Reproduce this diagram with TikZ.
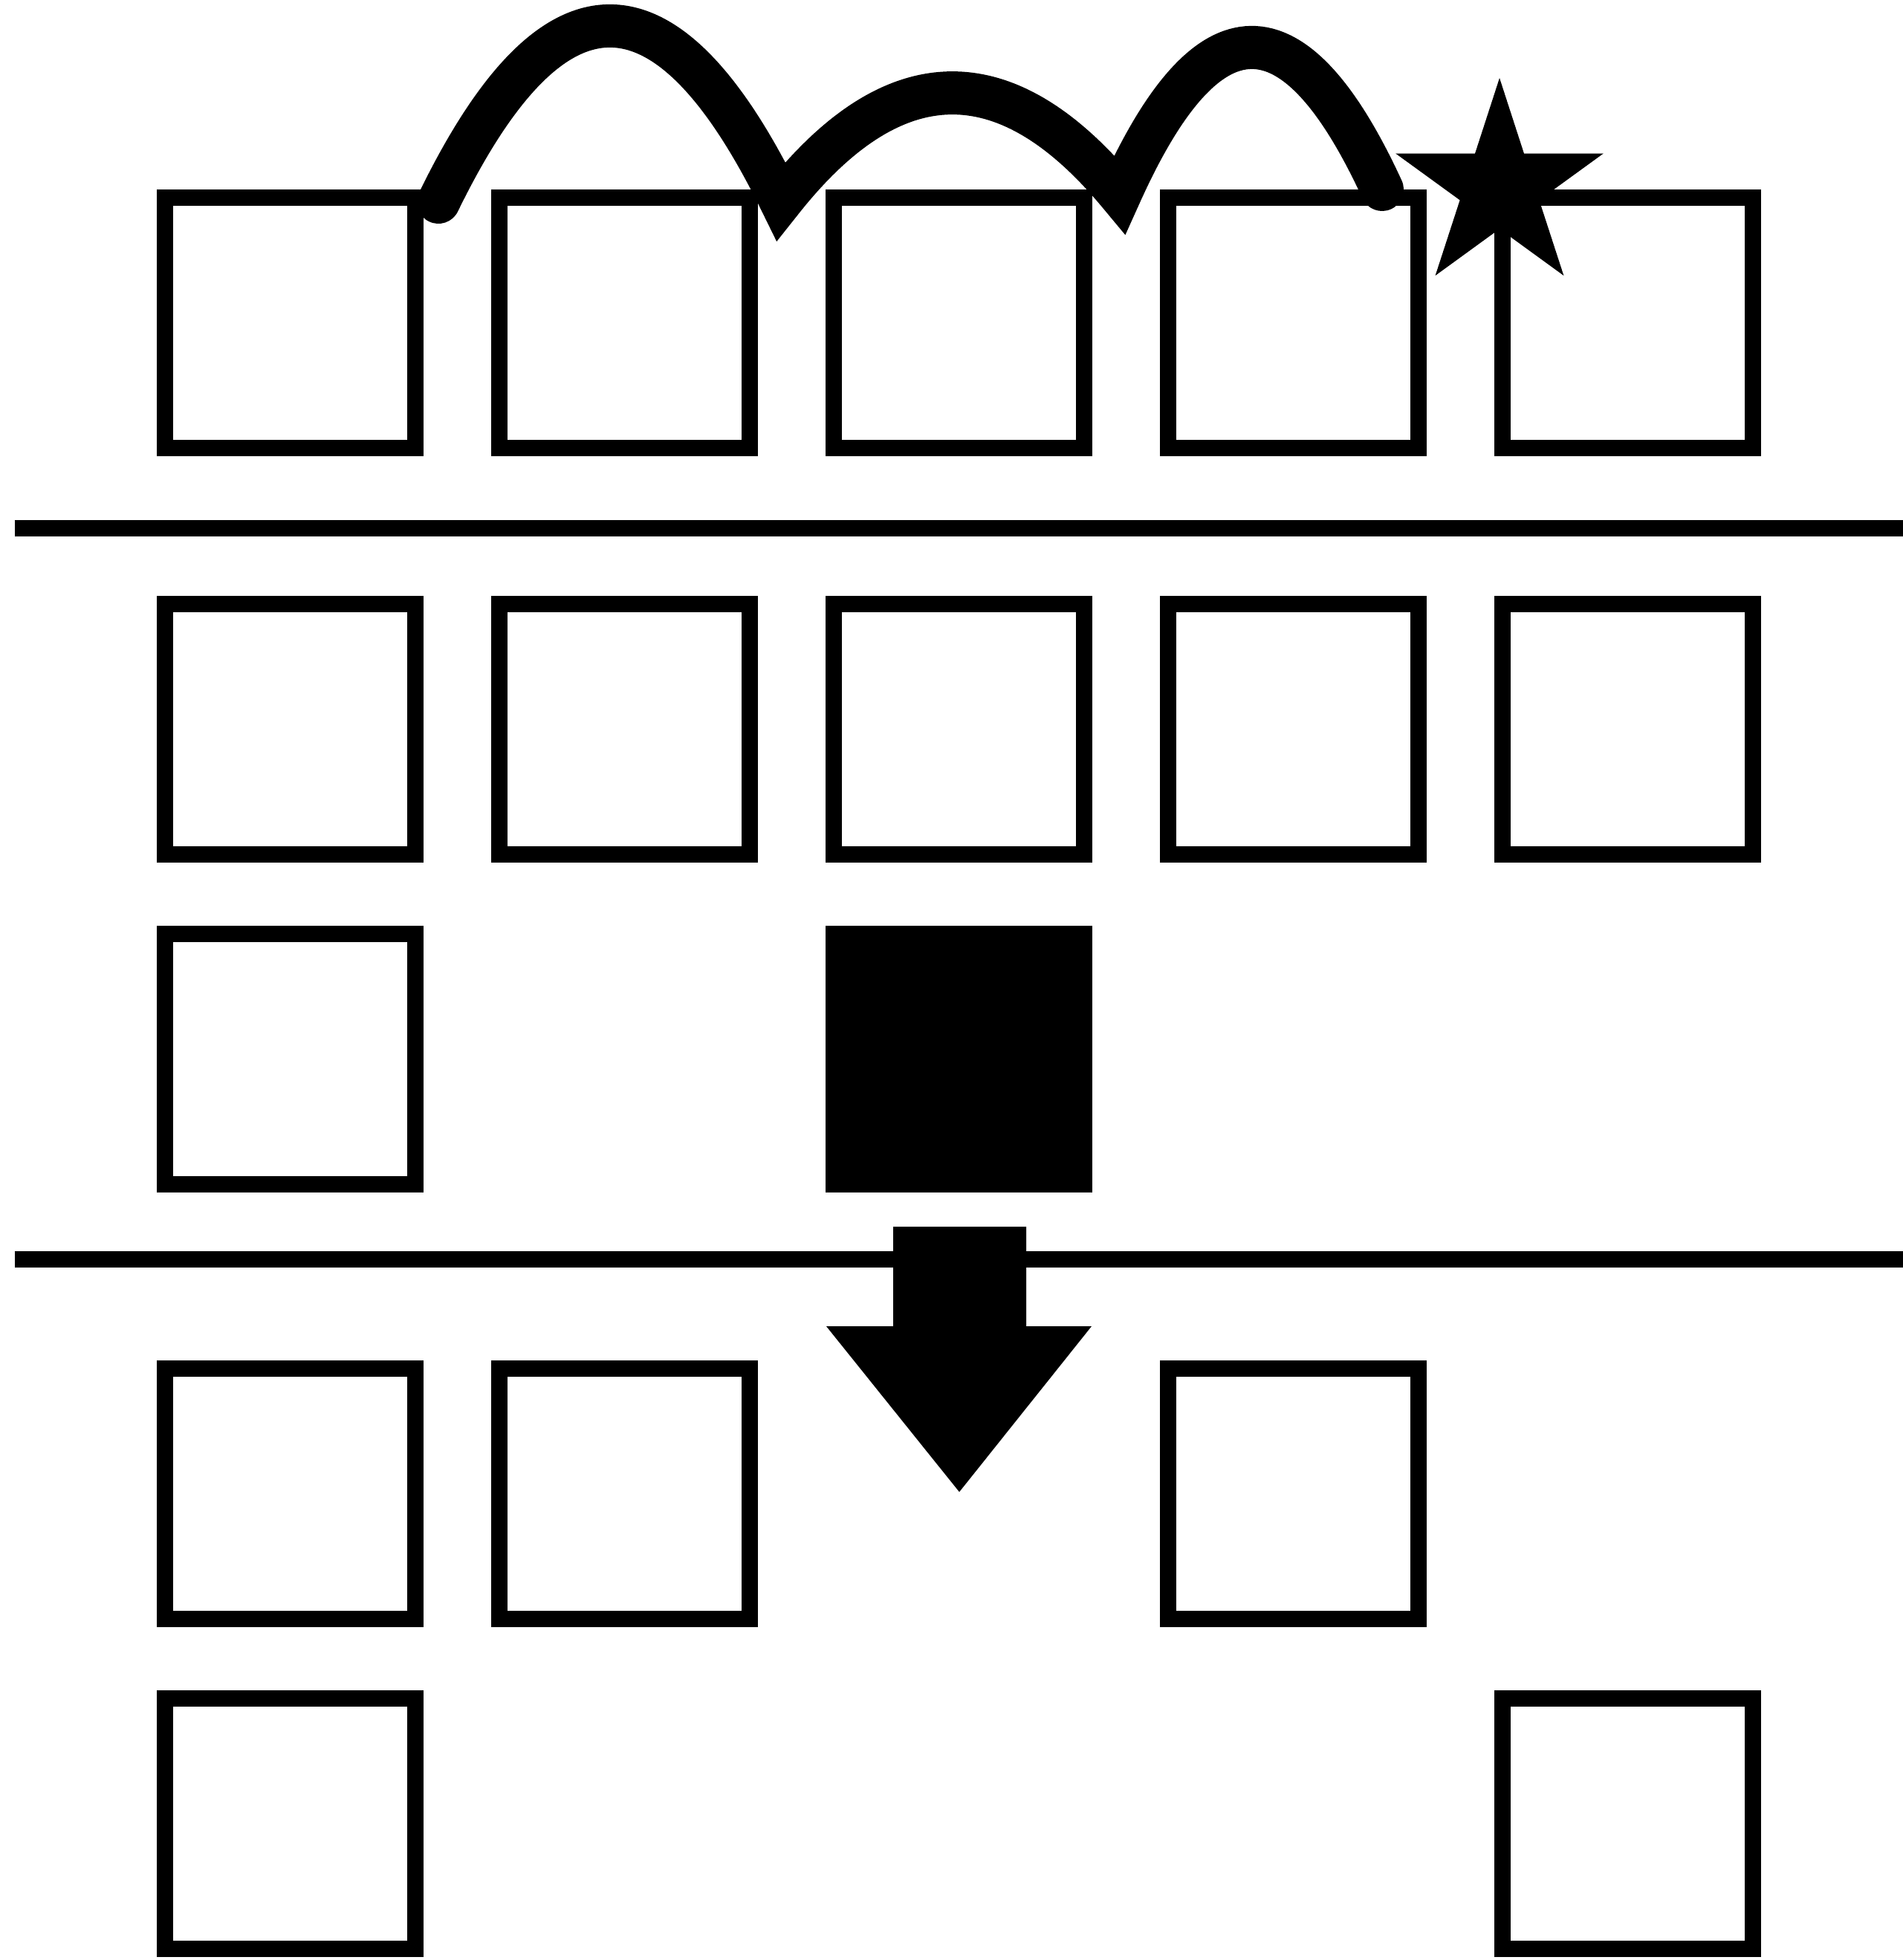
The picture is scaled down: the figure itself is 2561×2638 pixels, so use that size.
\documentclass[tikz,border=0pt]{standalone}
\usetikzlibrary{positioning,shapes.geometric}
\begin{document}
\begin{tikzpicture}[x=0.1mm,y=-0.1mm,node distance=8.5mm and 9.1mm,
  cell/.style={draw,line width=2.2mm,inner sep=0pt,minimum size=33.7mm},
  rule/.style={line width=2.2mm}, hop/.style={line width=5.8mm,line cap=round,line join=miter}]
\useasboundingbox (0,0) rectangle (2561,2638);
\node[cell] (a1) at (390.5,434.5) {};
\node[cell,right=of a1] (a2) {}; \node[cell,right=of a2] (a3) {};
\node[cell,right=of a3] (a4) {}; \node[cell,right=of a4] (a5) {};
\node[cell,below=18.75mm of a1] (b1) {};
\node[cell,right=of b1] (b2) {}; \node[cell,right=of b2] (b3) {};
\node[cell,right=of b3] (b4) {}; \node[cell,right=of b4] (b5) {};
\node[cell,below=of b1] (c1) {};
\node[cell,fill=black,below=of b3] (c3) {};
\node[cell,below=22.6mm of c1] (d1) {};
\node[cell,right=of d1] (d2) {};
\node[cell] (d4) at (a4 |- d1) {};
\node[cell,below=of d1] (e1) {};
\node[cell] (e5) at (a5 |- e1) {};
\draw[rule] (19.6,711) -- (2561,711);
\draw[rule] (19.6,1695) -- (2561,1695);
\fill (1202,1651) -- (1381,1651) -- (1381,1785) -- (1469,1785) -- (1291,2008)
  -- (1112,1785) -- (1202,1785) -- cycle;
\draw[hop] (590,272) .. controls (744,-44) and (897,-44) .. (1051,271)
  .. controls (1203,78) and (1355,78) .. (1507,262)
  .. controls (1625,-1) and (1742,-1) .. (1860,255);
\node[star,star points=5,star point ratio=2.62,minimum size=29.4mm,inner sep=0pt,fill=black]
  (goal) at (2018,252) {};
\end{tikzpicture}
\end{document}
